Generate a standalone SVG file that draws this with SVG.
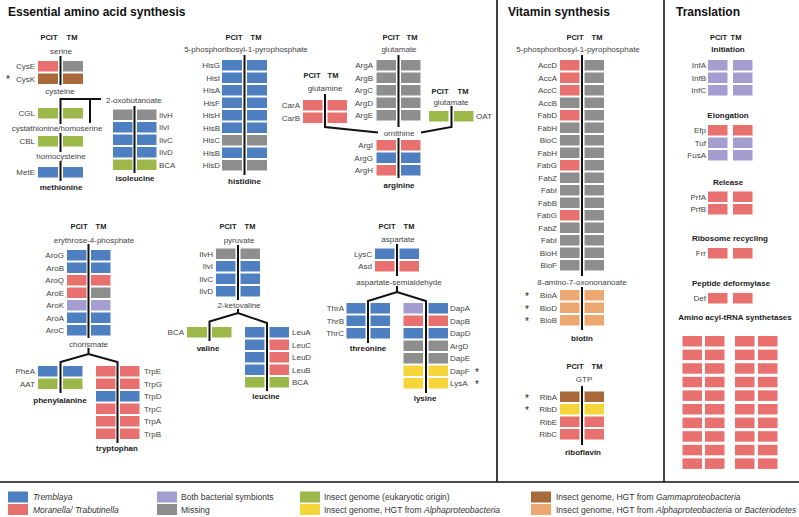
<svg xmlns="http://www.w3.org/2000/svg" width="799" height="517" viewBox="0 0 799 517">
<style>
text{font-family:"Liberation Sans",Arial,sans-serif}
.lab{font-size:8px;fill:#444}
.e{text-anchor:end}
.st{font-size:10px;fill:#222}
.met{font-size:8px;fill:#444;text-anchor:middle}
.prod{font-size:8px;font-weight:bold;fill:#222;text-anchor:middle}
.hd{font-size:7.5px;font-weight:bold;fill:#222;text-anchor:middle}
.title{font-size:12px;font-weight:bold;fill:#111}
.sub{font-size:8px;font-weight:bold;fill:#222;text-anchor:middle}
.leg{font-size:8.5px;fill:#333}
.it{font-style:italic}
.cb{fill:#4e7fc0}.cr{fill:#e8716f}.cp{fill:#a49dd0}.cg{fill:#8e8e8e}.cn{fill:#9cb84b}.cy{fill:#f6d53a}.cw{fill:#a8693b}.co{fill:#eda872}
.ln{stroke:#111;stroke-width:2;fill:none}
.sep{stroke:#111;stroke-width:1.6;fill:none}
</style>
<rect width="799" height="517" fill="#fff"/>
<g id="frame">
<line class="sep" x1="497" y1="0" x2="497" y2="482"/>
<line class="sep" x1="664" y1="0" x2="664" y2="482"/>
<line class="sep" x1="0" y1="482" x2="799" y2="482"/>
<text class="title" x="8" y="16">Essential amino acid synthesis</text>
<text class="title" x="508" y="16">Vitamin synthesis</text>
<text class="title" x="676" y="16">Translation</text>
</g>
<g id="connectors">
<line class="ln" x1="60.5" y1="56" x2="60.5" y2="85"/>
<polyline class="ln" points="60.5,124 60.5,99 101,99"/>
<line class="ln" x1="90" y1="99" x2="90" y2="123"/>
<line class="ln" x1="60.5" y1="133" x2="60.5" y2="152"/>
<line class="ln" x1="60.5" y1="161" x2="60.5" y2="181"/>
<line class="ln" x1="134.5" y1="106" x2="134.5" y2="173"/>
<line class="ln" x1="244.5" y1="55" x2="244.5" y2="175"/>
<line class="ln" x1="398.5" y1="55" x2="398.5" y2="127"/>
<line class="ln" x1="398.5" y1="138" x2="398.5" y2="178"/>
<polyline class="ln" points="325,94 325,127 378,132.5"/>
<polyline class="ln" points="451.5,106 451.5,127 421,132.5"/>
<line class="ln" x1="88.5" y1="244" x2="88.5" y2="338"/>
<line class="ln" x1="88.5" y1="348" x2="88.5" y2="354"/>
<polyline class="ln" points="60.5,393 60.5,362 88.5,354 117.5,362 117.5,443"/>
<line class="ln" x1="238" y1="245" x2="238" y2="300"/>
<line class="ln" x1="238" y1="309" x2="238" y2="313"/>
<polyline class="ln" points="209.5,341 209.5,321.5 238,313 267,323 267,391"/>
<line class="ln" x1="397" y1="244" x2="397" y2="276"/>
<line class="ln" x1="397" y1="286" x2="397" y2="292"/>
<polyline class="ln" points="368,343 368,301 397,292 426,301 426,393"/>
<line class="ln" x1="582" y1="55" x2="582" y2="276"/>
<line class="ln" x1="582" y1="287" x2="582" y2="330"/>
<line class="ln" x1="582" y1="386" x2="582" y2="445"/>
</g>
<g id="methionine">
<text class="hd" x="49" y="40">PCIT</text><text class="hd" x="72" y="40">TM</text>
<text class="met" x="61" y="54">serine</text>
<rect class="cr" x="38" y="61" width="20" height="10.5"/><rect class="cg" x="63" y="61" width="20" height="10.5"/>
<rect class="cw" x="38" y="73.5" width="20" height="10.5"/><rect class="cw" x="63" y="73.5" width="20" height="10.5"/>
<text class="lab e" x="35" y="69">CysE</text>
<text class="lab e" x="35" y="81.5">CysK</text>
<text class="st" x="6" y="83">*</text>
<text class="met" x="60" y="94">cysteine</text>
<text class="met" x="106" y="102.5" style="text-anchor:start">2-oxobutanoate</text>
<rect class="cn" x="38" y="108" width="20" height="10.5"/><rect class="cn" x="63" y="108" width="20" height="10.5"/>
<text class="lab e" x="35" y="116">CGL</text>
<text class="met" x="57" y="131">cystathionine/homoserine</text>
<rect class="cn" x="38" y="136" width="20" height="10.5"/><rect class="cn" x="63" y="136" width="20" height="10.5"/>
<text class="lab e" x="35" y="144">CBL</text>
<text class="met" x="61" y="158.5">homocysteine</text>
<rect class="cb" x="38" y="167" width="20" height="10.5"/><rect class="cb" x="63" y="167" width="20" height="10.5"/>
<text class="lab e" x="35" y="175">MetE</text>
<text class="prod" x="61" y="189.5">methionine</text>
</g>
<g id="isoleucine">
<rect class="cg" x="113" y="109.5" width="19.5" height="10.5"/><rect class="cg" x="137" y="109.5" width="19.5" height="10.5"/>
<rect class="cb" x="113" y="122" width="19.5" height="10.5"/><rect class="cb" x="137" y="122" width="19.5" height="10.5"/>
<rect class="cb" x="113" y="134.5" width="19.5" height="10.5"/><rect class="cb" x="137" y="134.5" width="19.5" height="10.5"/>
<rect class="cb" x="113" y="147" width="19.5" height="10.5"/><rect class="cb" x="137" y="147" width="19.5" height="10.5"/>
<rect class="cn" x="113" y="159.5" width="19.5" height="10.5"/><rect class="cn" x="137" y="159.5" width="19.5" height="10.5"/>
<text class="lab" x="159" y="117.5">IlvH</text>
<text class="lab" x="159" y="130">IlvI</text>
<text class="lab" x="159" y="142.5">IlvC</text>
<text class="lab" x="159" y="155">IlvD</text>
<text class="lab" x="159" y="167.5">BCA</text>
<text class="prod" x="135" y="181">isoleucine</text>
</g>
<g id="histidine">
<text class="hd" x="234" y="40">PCIT</text><text class="hd" x="256" y="40">TM</text>
<text class="met" x="246" y="52">5-phosphoribosyl-1-pyrophosphate</text>
<rect class="cb" x="222" y="60" width="20" height="10.5"/><rect class="cb" x="247" y="60" width="20" height="10.5"/>
<rect class="cb" x="222" y="72.5" width="20" height="10.5"/><rect class="cb" x="247" y="72.5" width="20" height="10.5"/>
<rect class="cb" x="222" y="85" width="20" height="10.5"/><rect class="cb" x="247" y="85" width="20" height="10.5"/>
<rect class="cb" x="222" y="97.5" width="20" height="10.5"/><rect class="cb" x="247" y="97.5" width="20" height="10.5"/>
<rect class="cb" x="222" y="110" width="20" height="10.5"/><rect class="cb" x="247" y="110" width="20" height="10.5"/>
<rect class="cb" x="222" y="122.5" width="20" height="10.5"/><rect class="cb" x="247" y="122.5" width="20" height="10.5"/>
<rect class="cg" x="222" y="135" width="20" height="10.5"/><rect class="cg" x="247" y="135" width="20" height="10.5"/>
<rect class="cb" x="222" y="147.5" width="20" height="10.5"/><rect class="cb" x="247" y="147.5" width="20" height="10.5"/>
<rect class="cg" x="222" y="160" width="20" height="10.5"/><rect class="cg" x="247" y="160" width="20" height="10.5"/>
<text class="lab e" x="220" y="68">HisG</text>
<text class="lab e" x="220" y="80.5">HisI</text>
<text class="lab e" x="220" y="93">HisA</text>
<text class="lab e" x="220" y="105.5">HisF</text>
<text class="lab e" x="220" y="118">HisH</text>
<text class="lab e" x="220" y="130.5">HisB</text>
<text class="lab e" x="220" y="143">HisC</text>
<text class="lab e" x="220" y="155.5">HisB</text>
<text class="lab e" x="220" y="168">HisD</text>
<text class="prod" x="244.5" y="184">histidine</text>
</g>
<g id="carbamoyl">
<text class="hd" x="312" y="78">PCIT</text><text class="hd" x="333" y="78">TM</text>
<text class="met" x="325" y="91">glutamine</text>
<rect class="cr" x="303" y="100" width="19.5" height="10.5"/><rect class="cr" x="327.5" y="100" width="19.5" height="10.5"/>
<rect class="cr" x="303" y="112.5" width="19.5" height="10.5"/><rect class="cr" x="327.5" y="112.5" width="19.5" height="10.5"/>
<text class="lab e" x="300" y="108">CarA</text>
<text class="lab e" x="300" y="120.5">CarB</text>
</g>
<g id="arginine">
<text class="hd" x="391" y="40">PCIT</text><text class="hd" x="412" y="40">TM</text>
<text class="met" x="399" y="52">glutamate</text>
<rect class="cg" x="376.5" y="60" width="19.5" height="10.5"/><rect class="cg" x="401" y="60" width="19.5" height="10.5"/>
<rect class="cg" x="376.5" y="72.5" width="19.5" height="10.5"/><rect class="cg" x="401" y="72.5" width="19.5" height="10.5"/>
<rect class="cg" x="376.5" y="85" width="19.5" height="10.5"/><rect class="cg" x="401" y="85" width="19.5" height="10.5"/>
<rect class="cg" x="376.5" y="97.5" width="19.5" height="10.5"/><rect class="cg" x="401" y="97.5" width="19.5" height="10.5"/>
<rect class="cg" x="376.5" y="110" width="19.5" height="10.5"/><rect class="cg" x="401" y="110" width="19.5" height="10.5"/>
<text class="lab e" x="373" y="68">ArgA</text>
<text class="lab e" x="373" y="80.5">ArgB</text>
<text class="lab e" x="373" y="93">ArgC</text>
<text class="lab e" x="373" y="105.5">ArgD</text>
<text class="lab e" x="373" y="118">ArgE</text>
<text class="met" x="399" y="135.5">ornithine</text>
<rect class="cr" x="376.5" y="140" width="19.5" height="10.5"/><rect class="cr" x="401" y="140" width="19.5" height="10.5"/>
<rect class="cb" x="376.5" y="152.5" width="19.5" height="10.5"/><rect class="cb" x="401" y="152.5" width="19.5" height="10.5"/>
<rect class="cr" x="376.5" y="165" width="19.5" height="10.5"/><rect class="cb" x="401" y="165" width="19.5" height="10.5"/>
<text class="lab e" x="373" y="148">ArgI</text>
<text class="lab e" x="373" y="160.5">ArgG</text>
<text class="lab e" x="373" y="173">ArgH</text>
<text class="prod" x="399" y="188">arginine</text>
</g>
<g id="oat">
<text class="hd" x="440" y="94">PCIT</text><text class="hd" x="463" y="94">TM</text>
<text class="met" x="451" y="104.5">glutamate</text>
<rect class="cn" x="429" y="111" width="19.5" height="10.5"/><rect class="cn" x="454" y="111" width="19.5" height="10.5"/>
<text class="lab" x="476" y="119">OAT</text>
</g>
<g id="aromatic">
<text class="hd" x="79" y="228.5">PCIT</text><text class="hd" x="101" y="228.5">TM</text>
<text class="met" x="94" y="243">erythrose-4-phosphate</text>
<rect class="cb" x="67" y="250" width="19.5" height="10.5"/><rect class="cb" x="91" y="250" width="19.5" height="10.5"/>
<rect class="cb" x="67" y="262.5" width="19.5" height="10.5"/><rect class="cb" x="91" y="262.5" width="19.5" height="10.5"/>
<rect class="cr" x="67" y="275" width="19.5" height="10.5"/><rect class="cr" x="91" y="275" width="19.5" height="10.5"/>
<rect class="cr" x="67" y="287.5" width="19.5" height="10.5"/><rect class="cg" x="91" y="287.5" width="19.5" height="10.5"/>
<rect class="cp" x="67" y="300" width="19.5" height="10.5"/><rect class="cp" x="91" y="300" width="19.5" height="10.5"/>
<rect class="cb" x="67" y="312.5" width="19.5" height="10.5"/><rect class="cb" x="91" y="312.5" width="19.5" height="10.5"/>
<rect class="cb" x="67" y="325" width="19.5" height="10.5"/><rect class="cb" x="91" y="325" width="19.5" height="10.5"/>
<text class="lab e" x="64" y="258">AroG</text>
<text class="lab e" x="64" y="270.5">AroB</text>
<text class="lab e" x="64" y="283">AroQ</text>
<text class="lab e" x="64" y="295.5">AroE</text>
<text class="lab e" x="64" y="308">AroK</text>
<text class="lab e" x="64" y="320.5">AroA</text>
<text class="lab e" x="64" y="333">AroC</text>
<text class="met" x="88.5" y="347">chorismate</text>
</g>
<g id="phenylalanine">
<rect class="cb" x="38" y="366" width="19.5" height="10.5"/><rect class="cb" x="63" y="366" width="19.5" height="10.5"/>
<rect class="cn" x="38" y="378.5" width="19.5" height="10.5"/><rect class="cn" x="63" y="378.5" width="19.5" height="10.5"/>
<text class="lab e" x="35" y="374">PheA</text>
<text class="lab e" x="35" y="386.5">AAT</text>
<text class="prod" x="60" y="403">phenylalanine</text>
</g>
<g id="tryptophan">
<rect class="cr" x="96" y="366" width="19.5" height="10.5"/><rect class="cr" x="120" y="366" width="19.5" height="10.5"/>
<rect class="cr" x="96" y="378.5" width="19.5" height="10.5"/><rect class="cr" x="120" y="378.5" width="19.5" height="10.5"/>
<rect class="cb" x="96" y="391" width="19.5" height="10.5"/><rect class="cb" x="120" y="391" width="19.5" height="10.5"/>
<rect class="cr" x="96" y="403.5" width="19.5" height="10.5"/><rect class="cr" x="120" y="403.5" width="19.5" height="10.5"/>
<rect class="cr" x="96" y="416" width="19.5" height="10.5"/><rect class="cr" x="120" y="416" width="19.5" height="10.5"/>
<rect class="cr" x="96" y="428.5" width="19.5" height="10.5"/><rect class="cr" x="120" y="428.5" width="19.5" height="10.5"/>
<text class="lab" x="144" y="374">TrpE</text>
<text class="lab" x="144" y="386.5">TrpG</text>
<text class="lab" x="144" y="399">TrpD</text>
<text class="lab" x="144" y="411.5">TrpC</text>
<text class="lab" x="144" y="424">TrpA</text>
<text class="lab" x="144" y="436.5">TrpB</text>
<text class="prod" x="117" y="450.5">tryptophan</text>
</g>
<g id="branched">
<text class="hd" x="228" y="228.5">PCIT</text><text class="hd" x="250" y="228.5">TM</text>
<text class="met" x="239" y="243">pyruvate</text>
<rect class="cg" x="216" y="248.5" width="19.5" height="10.5"/><rect class="cg" x="240.5" y="248.5" width="19.5" height="10.5"/>
<rect class="cb" x="216" y="261" width="19.5" height="10.5"/><rect class="cb" x="240.5" y="261" width="19.5" height="10.5"/>
<rect class="cb" x="216" y="273.5" width="19.5" height="10.5"/><rect class="cb" x="240.5" y="273.5" width="19.5" height="10.5"/>
<rect class="cb" x="216" y="286" width="19.5" height="10.5"/><rect class="cb" x="240.5" y="286" width="19.5" height="10.5"/>
<text class="lab e" x="213" y="256.5">IlvH</text>
<text class="lab e" x="213" y="269">IlvI</text>
<text class="lab e" x="213" y="281.5">IlvC</text>
<text class="lab e" x="213" y="294">IlvD</text>
<text class="met" x="239" y="308">2-ketovaline</text>
</g>
<g id="valine">
<rect class="cn" x="187" y="327" width="20" height="10.5"/><rect class="cn" x="212" y="327" width="19.5" height="10.5"/>
<text class="lab e" x="184" y="335">BCA</text>
<text class="prod" x="208" y="350.5">valine</text>
</g>
<g id="leucine">
<rect class="cb" x="245" y="327" width="19.5" height="10.5"/><rect class="cb" x="269.5" y="327" width="19.5" height="10.5"/>
<rect class="cb" x="245" y="339.5" width="19.5" height="10.5"/><rect class="cr" x="269.5" y="339.5" width="19.5" height="10.5"/>
<rect class="cb" x="245" y="352" width="19.5" height="10.5"/><rect class="cr" x="269.5" y="352" width="19.5" height="10.5"/>
<rect class="cb" x="245" y="364.5" width="19.5" height="10.5"/><rect class="cr" x="269.5" y="364.5" width="19.5" height="10.5"/>
<rect class="cn" x="245" y="377" width="19.5" height="10.5"/><rect class="cn" x="269.5" y="377" width="19.5" height="10.5"/>
<text class="lab" x="292" y="335">LeuA</text>
<text class="lab" x="292" y="347.5">LeuC</text>
<text class="lab" x="292" y="360">LeuD</text>
<text class="lab" x="292" y="372.5">LeuB</text>
<text class="lab" x="292" y="385">BCA</text>
<text class="prod" x="266" y="398.5">leucine</text>
</g>
<g id="aspartate">
<text class="hd" x="387" y="228.5">PCIT</text><text class="hd" x="409" y="228.5">TM</text>
<text class="met" x="398" y="242">aspartate</text>
<rect class="cb" x="375" y="248.5" width="19.5" height="10.5"/><rect class="cb" x="399.5" y="248.5" width="19.5" height="10.5"/>
<rect class="cr" x="375" y="261" width="19.5" height="10.5"/><rect class="cr" x="399.5" y="261" width="19.5" height="10.5"/>
<text class="lab e" x="372" y="256.5">LysC</text>
<text class="lab e" x="372" y="269">Asd</text>
<text class="met" x="399" y="284.5">aspartate-semialdehyde</text>
</g>
<g id="threonine">
<rect class="cb" x="346.5" y="303" width="19" height="10.5"/><rect class="cb" x="370.5" y="303" width="19.5" height="10.5"/>
<rect class="cb" x="346.5" y="315.5" width="19" height="10.5"/><rect class="cb" x="370.5" y="315.5" width="19.5" height="10.5"/>
<rect class="cb" x="346.5" y="328" width="19" height="10.5"/><rect class="cb" x="370.5" y="328" width="19.5" height="10.5"/>
<text class="lab e" x="344" y="311">ThrA</text>
<text class="lab e" x="344" y="323.5">ThrB</text>
<text class="lab e" x="344" y="336">ThrC</text>
<text class="prod" x="368" y="351">threonine</text>
</g>
<g id="lysine">
<rect class="cp" x="403.5" y="303" width="19.5" height="10.5"/><rect class="cb" x="428.5" y="303" width="19.5" height="10.5"/>
<rect class="cr" x="403.5" y="315.5" width="19.5" height="10.5"/><rect class="cr" x="428.5" y="315.5" width="19.5" height="10.5"/>
<rect class="cb" x="403.5" y="328" width="19.5" height="10.5"/><rect class="cb" x="428.5" y="328" width="19.5" height="10.5"/>
<rect class="cg" x="403.5" y="340.5" width="19.5" height="10.5"/><rect class="cg" x="428.5" y="340.5" width="19.5" height="10.5"/>
<rect class="cg" x="403.5" y="353" width="19.5" height="10.5"/><rect class="cg" x="428.5" y="353" width="19.5" height="10.5"/>
<rect class="cy" x="403.5" y="365.5" width="19.5" height="10.5"/><rect class="cy" x="428.5" y="365.5" width="19.5" height="10.5"/>
<rect class="cy" x="403.5" y="378" width="19.5" height="10.5"/><rect class="cy" x="428.5" y="378" width="19.5" height="10.5"/>
<text class="lab" x="450" y="311">DapA</text>
<text class="lab" x="450" y="323.5">DapB</text>
<text class="lab" x="450" y="336">DapD</text>
<text class="lab" x="450" y="348.5">ArgD</text>
<text class="lab" x="450" y="361">DapE</text>
<text class="lab" x="450" y="373.5">DapF</text>
<text class="lab" x="450" y="386">LysA</text>
<text class="st" x="475" y="375.5">*</text>
<text class="st" x="475" y="388">*</text>
<text class="prod" x="425" y="401">lysine</text>
</g>
<g id="biotin">
<text class="hd" x="575" y="40">PCIT</text><text class="hd" x="597" y="40">TM</text>
<text class="met" x="578" y="52">5-phosphoribosyl-1-pyrophosphate</text>
<rect class="cr" x="560" y="60" width="19.5" height="10.5"/><rect class="cg" x="584.5" y="60" width="19.5" height="10.5"/>
<rect class="cr" x="560" y="72.5" width="19.5" height="10.5"/><rect class="cg" x="584.5" y="72.5" width="19.5" height="10.5"/>
<rect class="cr" x="560" y="85" width="19.5" height="10.5"/><rect class="cg" x="584.5" y="85" width="19.5" height="10.5"/>
<rect class="cg" x="560" y="97.5" width="19.5" height="10.5"/><rect class="cg" x="584.5" y="97.5" width="19.5" height="10.5"/>
<rect class="cr" x="560" y="110" width="19.5" height="10.5"/><rect class="cg" x="584.5" y="110" width="19.5" height="10.5"/>
<rect class="cg" x="560" y="122.5" width="19.5" height="10.5"/><rect class="cg" x="584.5" y="122.5" width="19.5" height="10.5"/>
<rect class="cg" x="560" y="135" width="19.5" height="10.5"/><rect class="cg" x="584.5" y="135" width="19.5" height="10.5"/>
<rect class="cg" x="560" y="147.5" width="19.5" height="10.5"/><rect class="cg" x="584.5" y="147.5" width="19.5" height="10.5"/>
<rect class="cr" x="560" y="160" width="19.5" height="10.5"/><rect class="cg" x="584.5" y="160" width="19.5" height="10.5"/>
<rect class="cg" x="560" y="172.5" width="19.5" height="10.5"/><rect class="cg" x="584.5" y="172.5" width="19.5" height="10.5"/>
<rect class="cg" x="560" y="185" width="19.5" height="10.5"/><rect class="cg" x="584.5" y="185" width="19.5" height="10.5"/>
<rect class="cg" x="560" y="197.5" width="19.5" height="10.5"/><rect class="cg" x="584.5" y="197.5" width="19.5" height="10.5"/>
<rect class="cr" x="560" y="210" width="19.5" height="10.5"/><rect class="cg" x="584.5" y="210" width="19.5" height="10.5"/>
<rect class="cg" x="560" y="222.5" width="19.5" height="10.5"/><rect class="cg" x="584.5" y="222.5" width="19.5" height="10.5"/>
<rect class="cg" x="560" y="235" width="19.5" height="10.5"/><rect class="cg" x="584.5" y="235" width="19.5" height="10.5"/>
<rect class="cg" x="560" y="247.5" width="19.5" height="10.5"/><rect class="cg" x="584.5" y="247.5" width="19.5" height="10.5"/>
<rect class="cg" x="560" y="260" width="19.5" height="10.5"/><rect class="cg" x="584.5" y="260" width="19.5" height="10.5"/>
<text class="lab e" x="557" y="68">AccD</text>
<text class="lab e" x="557" y="80.5">AccA</text>
<text class="lab e" x="557" y="93">AccC</text>
<text class="lab e" x="557" y="105.5">AccB</text>
<text class="lab e" x="557" y="118">FabD</text>
<text class="lab e" x="557" y="130.5">FabH</text>
<text class="lab e" x="557" y="143">BioC</text>
<text class="lab e" x="557" y="155.5">FabH</text>
<text class="lab e" x="557" y="168">FabG</text>
<text class="lab e" x="557" y="180.5">FabZ</text>
<text class="lab e" x="557" y="193">FabI</text>
<text class="lab e" x="557" y="205.5">FabB</text>
<text class="lab e" x="557" y="218">FabG</text>
<text class="lab e" x="557" y="230.5">FabZ</text>
<text class="lab e" x="557" y="243">FabI</text>
<text class="lab e" x="557" y="255.5">BioH</text>
<text class="lab e" x="557" y="268">BioF</text>
<text class="met" x="582" y="284.5">8-amino-7-oxononanoate</text>
<rect class="co" x="560" y="290" width="19.5" height="10.5"/><rect class="co" x="584.5" y="290" width="19.5" height="10.5"/>
<rect class="co" x="560" y="302.5" width="19.5" height="10.5"/><rect class="co" x="584.5" y="302.5" width="19.5" height="10.5"/>
<rect class="co" x="560" y="315" width="19.5" height="10.5"/><rect class="co" x="584.5" y="315" width="19.5" height="10.5"/>
<text class="lab e" x="557" y="298">BioA</text>
<text class="lab e" x="557" y="310.5">BioD</text>
<text class="lab e" x="557" y="323">BioB</text>
<text class="st" x="525" y="300">*</text>
<text class="st" x="525" y="312.5">*</text>
<text class="st" x="525" y="325">*</text>
<text class="prod" x="582" y="340.5">biotin</text>
</g>
<g id="riboflavin">
<text class="hd" x="575" y="369">PCIT</text><text class="hd" x="597" y="369">TM</text>
<text class="met" x="584" y="382">GTP</text>
<rect class="cw" x="560" y="391.5" width="19.5" height="10.5"/><rect class="cw" x="584.5" y="391.5" width="19.5" height="10.5"/>
<rect class="cy" x="560" y="404" width="19.5" height="10.5"/><rect class="cy" x="584.5" y="404" width="19.5" height="10.5"/>
<rect class="cr" x="560" y="416.5" width="19.5" height="10.5"/><rect class="cr" x="584.5" y="416.5" width="19.5" height="10.5"/>
<rect class="cr" x="560" y="429" width="19.5" height="10.5"/><rect class="cr" x="584.5" y="429" width="19.5" height="10.5"/>
<text class="lab e" x="557" y="399.5">RibA</text>
<text class="lab e" x="557" y="412">RibD</text>
<text class="lab e" x="557" y="424.5">RibE</text>
<text class="lab e" x="557" y="437">RibC</text>
<text class="st" x="525" y="401.5">*</text>
<text class="st" x="525" y="414">*</text>
<text class="prod" x="583" y="454.5">riboflavin</text>
</g>
<g id="translation">
<text class="hd" x="718.5" y="40">PCIT</text><text class="hd" x="736" y="40">TM</text>
<text class="sub" x="728" y="52">Initiation</text>
<rect class="cp" x="708" y="60" width="19.5" height="10.5"/><rect class="cp" x="733" y="60" width="19.5" height="10.5"/>
<rect class="cp" x="708" y="72.5" width="19.5" height="10.5"/><rect class="cp" x="733" y="72.5" width="19.5" height="10.5"/>
<rect class="cp" x="708" y="85" width="19.5" height="10.5"/><rect class="cp" x="733" y="85" width="19.5" height="10.5"/>
<text class="lab e" x="706" y="68">InfA</text>
<text class="lab e" x="706" y="80.5">InfB</text>
<text class="lab e" x="706" y="93">InfC</text>
<text class="sub" x="728" y="118">Elongation</text>
<rect class="cr" x="708" y="125" width="19.5" height="10.5"/><rect class="cr" x="733" y="125" width="19.5" height="10.5"/>
<rect class="cp" x="708" y="137.5" width="19.5" height="10.5"/><rect class="cp" x="733" y="137.5" width="19.5" height="10.5"/>
<rect class="cp" x="708" y="150" width="19.5" height="10.5"/><rect class="cp" x="733" y="150" width="19.5" height="10.5"/>
<text class="lab e" x="706" y="133">Efp</text>
<text class="lab e" x="706" y="145.5">Tuf</text>
<text class="lab e" x="706" y="158">FusA</text>
<text class="sub" x="728" y="184.5">Release</text>
<rect class="cr" x="708" y="191.5" width="19.5" height="10.5"/><rect class="cr" x="733" y="191.5" width="19.5" height="10.5"/>
<rect class="cr" x="708" y="204" width="19.5" height="10.5"/><rect class="cr" x="733" y="204" width="19.5" height="10.5"/>
<text class="lab e" x="706" y="199.5">PrfA</text>
<text class="lab e" x="706" y="212">PrfB</text>
<text class="sub" x="730" y="241">Ribosome recycling</text>
<rect class="cr" x="708" y="248" width="19.5" height="10.5"/><rect class="cr" x="733" y="248" width="19.5" height="10.5"/>
<text class="lab e" x="706" y="256">Frr</text>
<text class="sub" x="731" y="285.5">Peptide deformylase</text>
<rect class="cr" x="708" y="293" width="19.5" height="10.5"/><rect class="cr" x="733" y="293" width="19.5" height="10.5"/>
<text class="lab e" x="706" y="301">Def</text>
<text class="sub" x="735" y="320">Amino acyl-tRNA synthetases</text>
</g>
<g id="trna-synthetases">
<rect class="cr" x="682.5" y="336" width="19.5" height="10.5"/><rect class="cr" x="705" y="336" width="19.5" height="10.5"/><rect class="cr" x="735" y="336" width="19.5" height="10.5"/><rect class="cr" x="758" y="336" width="19.5" height="10.5"/>
<rect class="cr" x="682.5" y="349.6" width="19.5" height="10.5"/><rect class="cr" x="705" y="349.6" width="19.5" height="10.5"/><rect class="cr" x="735" y="349.6" width="19.5" height="10.5"/><rect class="cr" x="758" y="349.6" width="19.5" height="10.5"/>
<rect class="cr" x="682.5" y="363.2" width="19.5" height="10.5"/><rect class="cr" x="705" y="363.2" width="19.5" height="10.5"/><rect class="cr" x="735" y="363.2" width="19.5" height="10.5"/><rect class="cr" x="758" y="363.2" width="19.5" height="10.5"/>
<rect class="cr" x="682.5" y="376.8" width="19.5" height="10.5"/><rect class="cr" x="705" y="376.8" width="19.5" height="10.5"/><rect class="cr" x="735" y="376.8" width="19.5" height="10.5"/><rect class="cr" x="758" y="376.8" width="19.5" height="10.5"/>
<rect class="cr" x="682.5" y="390.4" width="19.5" height="10.5"/><rect class="cr" x="705" y="390.4" width="19.5" height="10.5"/><rect class="cr" x="735" y="390.4" width="19.5" height="10.5"/><rect class="cr" x="758" y="390.4" width="19.5" height="10.5"/>
<rect class="cr" x="682.5" y="404" width="19.5" height="10.5"/><rect class="cr" x="705" y="404" width="19.5" height="10.5"/><rect class="cr" x="735" y="404" width="19.5" height="10.5"/><rect class="cr" x="758" y="404" width="19.5" height="10.5"/>
<rect class="cr" x="682.5" y="417.6" width="19.5" height="10.5"/><rect class="cr" x="705" y="417.6" width="19.5" height="10.5"/><rect class="cr" x="735" y="417.6" width="19.5" height="10.5"/><rect class="cr" x="758" y="417.6" width="19.5" height="10.5"/>
<rect class="cr" x="682.5" y="431.2" width="19.5" height="10.5"/><rect class="cr" x="705" y="431.2" width="19.5" height="10.5"/><rect class="cr" x="735" y="431.2" width="19.5" height="10.5"/><rect class="cr" x="758" y="431.2" width="19.5" height="10.5"/>
<rect class="cr" x="682.5" y="444.8" width="19.5" height="10.5"/><rect class="cr" x="705" y="444.8" width="19.5" height="10.5"/><rect class="cr" x="735" y="444.8" width="19.5" height="10.5"/><rect class="cr" x="758" y="444.8" width="19.5" height="10.5"/>
<rect class="cr" x="682.5" y="458.4" width="19.5" height="10.5"/><rect class="cr" x="705" y="458.4" width="19.5" height="10.5"/><rect class="cr" x="735" y="458.4" width="19.5" height="10.5"/><rect class="cr" x="758" y="458.4" width="19.5" height="10.5"/>
</g>
<g id="legend">
<rect class="cb" x="8" y="491.5" width="20" height="11"/>
<text class="leg it" x="33" y="500">Tremblaya</text>
<rect class="cr" x="8" y="504" width="20" height="11"/>
<text class="leg it" x="33" y="512.5">Moranella/ Trabutinella</text>
<rect class="cp" x="157" y="491.5" width="20" height="11"/>
<text class="leg" x="181" y="500">Both bacterial symbionts</text>
<rect class="cg" x="157" y="504" width="20" height="11"/>
<text class="leg" x="181" y="512.5">Missing</text>
<rect class="cn" x="300" y="491.5" width="20" height="11"/>
<text class="leg" x="324" y="500">Insect genome (eukaryotic origin)</text>
<rect class="cy" x="300" y="504" width="20" height="11"/>
<text class="leg" x="324" y="512.5">Insect genome, HGT from <tspan class="it">Alphaproteobacteria</tspan></text>
<rect class="cw" x="531" y="491.5" width="20" height="11"/>
<text class="leg" x="556" y="500">Insect genome, HGT from <tspan class="it">Gammaproteobacteria</tspan></text>
<rect class="co" x="531" y="504" width="20" height="11"/>
<text class="leg" x="556" y="512.5">Insect genome, HGT from <tspan class="it">Alphaproteobacteria</tspan> or <tspan class="it">Bacteriodetes</tspan></text>
</g>
</svg>
